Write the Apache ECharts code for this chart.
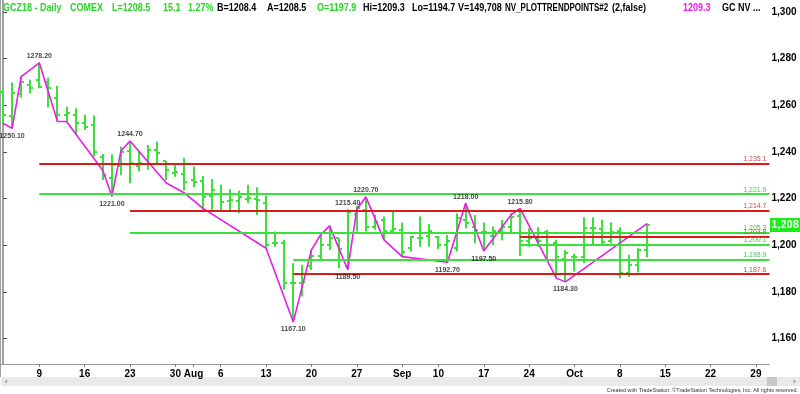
<!DOCTYPE html>
<html><head><meta charset="utf-8">
<script src="https://cdn.jsdelivr.net/npm/echarts@6/dist/echarts.min.js"></script>
<style>html,body{margin:0;padding:0;background:#fff;}#c{width:800px;height:394px;}</style>
</head><body><div id="c"></div><script>
// ---- categories (trading days, 2018) ----
const dates = ['07-02','07-03','07-05','07-06','07-09','07-10','07-11','07-12','07-13','07-16','07-17','07-18','07-19','07-20','07-23','07-24','07-25','07-26','07-27','07-30','07-31',
'08-01','08-02','08-03','08-06','08-07','08-08','08-09','08-10','08-13','08-14','08-15','08-16','08-17','08-20','08-21','08-22','08-23','08-24','08-27','08-28','08-29','08-30','08-31',
'09-04','09-05','09-06','09-07','09-10','09-11','09-12','09-13','09-14','09-17','09-18','09-19','09-20','09-21','09-24','09-25','09-26','09-27','09-28',
'10-01','10-02','10-03','10-04','10-05','10-08','10-09','10-10','10-11','10-12','10-15','10-16','10-17','10-18','10-19','10-22','10-23','10-24','10-25','10-26','10-29','10-30'];
// x tick labels
const xTickDates  = ['07-09','07-16','07-23','07-30','08-01','08-06','08-13','08-20','08-27','09-04','09-10','09-17','09-24','10-01','10-08','10-15','10-22','10-29'];
const xTickLabels = ['9','16','23','30','Aug','6','13','20','27','Sep','10','17','24','Oct','8','15','22','29'];
// y tick labels
const yTicks = [1160,1180,1200,1220,1240,1260,1280,1300];
// ---- OHLC ----
const open  = [1265.5,1255.4,1265,1268.5,1270.9,1270,1263,1256,1256,1252.5,1251.6,1238,1229,1234,1240.5,1234,1235,1241,1236,1231,1230.4,
1228,1227.5,1221,1222,1219,1219,1220,1220,1218,1201,1201,1184,1184,1191,1195.6,1200,1203,1191,1213.5,1215,1208,1211,1206,
1206.5,1199,1203,1204,1203.5,1200,1199,1211,1208,1205.5,1204,1206,1208,1212.5,1202,1203,1205.5,1201,1194,
1195,1195,1207.5,1207,1202,1206,1188,1191.6,1197.9];
const high  = [1267.3,1269.7,1272.3,1270.9,1278.2,1271.8,1268.3,1259.4,1258.7,1255.9,1255.6,1239.1,1239.0,1242.3,1244.7,1240.1,1243.0,1244.4,1236.1,1234.4,1237.5,
1233.7,1229.7,1228.3,1225.9,1224.0,1223.4,1225.9,1224.9,1221.1,1205.9,1202.3,1192.3,1191.6,1198.0,1204.4,1208.3,1203.0,1215.4,1216.9,1220.7,1213.0,1212.3,1214.4,
1209.7,1204.0,1212.3,1209.1,1204.0,1204.4,1213.7,1218.0,1213.0,1209.7,1208.0,1210.9,1213.7,1215.8,1207.3,1207.7,1206.6,1202.3,1198.0,
1196.3,1212.0,1212.0,1210.9,1209.7,1207.7,1195.9,1198.7,1209.3];
const low   = [1252.3,1250.1,1263.3,1265.1,1267.3,1259.0,1253.0,1253.0,1247.3,1249.4,1238.0,1228.0,1221.0,1230.1,1226.6,1231.6,1232.3,1235.1,1228.0,1229.4,1223.5,
1224.8,1214.4,1214.4,1214.4,1215.1,1213.7,1218.0,1213.0,1198.7,1199.4,1180.9,1167.1,1178.0,1189.4,1193.7,1198.0,1190.1,1189.5,1205.9,1205.9,1206.6,1202.3,1205.1,
1195.1,1197.3,1199.4,1199.4,1198.3,1192.7,1197.3,1207.3,1200.9,1197.5,1200.1,1202.0,1205.1,1195.4,1199.4,1199.4,1193.7,1186.4,1184.3,
1188.7,1192.3,1200.1,1200.1,1200.9,1185.9,1186.4,1188.3,1194.7];
const close = [1256,1265.1,1269.9,1267.3,1268,1267.3,1255.9,1256.6,1252.3,1250.8,1240,1230,1234.4,1240.1,1235.1,1235.2,1240.9,1239.4,1232.3,1231.6,1227,
1227.3,1220.8,1223.7,1218.7,1219.4,1220.8,1220.2,1219.4,1200,1200.9,1184,1183.7,1184.4,1195.6,1200,1203,1198.3,1214.4,1215.9,1208,1210,1206,1207,
1197.3,1203.4,1203,1206,1200.1,1202,1211.6,1209.4,1206.6,1205.7,1206,1208,1212,1202,1203,1202,1200,1195,1196.6,
1195,1207.5,1207.5,1201.6,1205.7,1188,1191.6,1198,1208.5];
// ---- trend line (NV_PLOTTRENDPOINTS) ----
const trendIdx = [0,1,2,4,6,7,11,12,13,14,18,20,22,29,32,34,35,36,38,39,40,42,44,49,51,53,56,57,61,62,71];
const trendVal = [1252.3,1250.1,1272.3,1278.2,1253,1253,1232,1221,1240.4,1244.7,1226.7,1222.4,1215.9,1198.7,1167.1,1198,1204.4,1208.3,1189.5,1215.4,1220.7,1202.3,1195.1,1192.7,1218,1197.5,1213,1215.8,1185.9,1184.3,1209.3];
// ---- labelled pivots ----
const pivotIdx = [1,4,12,14,32,38,38,40,49,51,53,57,62];
const pivotVal = [1250.1,1278.2,1221.0,1244.7,1167.1,1189.5,1215.4,1220.7,1192.7,1218.0,1197.5,1215.8,1184.3];
const pivotSide = ['low','high','low','high','low','low','high','high','low','high','low','high','low'];
// ---- horizontal levels ----
const levelVal   = [1235.1,1221.9,1214.7,1205.3,1203.8,1200.1,1193.9,1187.6];
const levelStart = ['07-09','07-09','07-23','07-23','09-21','09-21','08-16','08-16'];
const levelKind  = ['r','g','r','g','r','g','g','r'];
// ---- header ----
const lastPrice = 1208.5;
const headerText = ['GCZ18 - Daily','COMEX','L=1208.5','15.1','1.27%','B=1208.4','A=1208.5','O=1197.9','Hi=1209.3','Lo=1194.7','V=149,708','NV_PLOTTRENDPOINTS#2','(2,false)','1209.3','GC NV ...'];
const headerTone = ['g','g','g','g','g','k','k','g','k','k','k','k','k','m','k'];

// ---- layout / style ----
const headerX = [3,70,112,163,188,217,267,317,363,412,458,505,612,683,722];
const headerScale = [0.9,0.9,0.9,0.9,0.9,0.9,0.9,0.9,0.9,0.9,0.9,0.8,0.9,0.9,0.9];
const GREEN = '#3be03b', RED = '#dd1a1a', MAG = '#e81ee8';
const TONE = {g:'#2ad42a', k:'#000', m:MAG};
const fmt = v => v.toLocaleString('en-US');
const chart = echarts.init(document.getElementById('c'), null, {renderer:'canvas'});
const ohlc = open.map((o,i)=>[i,o,high[i],low[i],close[i]]);
const xTickIdx = xTickDates.map(d=>dates.indexOf(d));
const xMax = dates.length - 0.5;

const option = {
  animation:false,
  grid:{left:-1.5,right:30.5,top:0,bottom:30,outerBoundsMode:'none',containLabel:false},
  xAxis:{type:'value',min:-0.5,max:xMax,
    axisLine:{show:true,lineStyle:{color:'#9a9a9a',width:1}},
    axisTick:{show:true,customValues:xTickIdx,length:3,lineStyle:{color:'#777'}},
    axisLabel:{customValues:xTickIdx,formatter:v=>xTickLabels[xTickIdx.indexOf(v)],
      fontSize:10,fontWeight:'bold',color:'#000',fontFamily:'Arial',margin:5},
    splitLine:{show:false}},
  yAxis:{type:'value',position:'right',min:1149.1,max:1305.1,
    axisLine:{show:true,lineStyle:{color:'#a0a0a0',width:2}},
    axisTick:{show:true,customValues:yTicks,length:4,lineStyle:{color:'#555'}},
    axisLabel:{customValues:yTicks,formatter:fmt,fontSize:10,fontWeight:'bold',color:'#000',fontFamily:'Arial',margin:2},
    splitLine:{show:false}},
  series:[
    {type:'custom',z:2,data:ohlc,encode:{x:0,y:[1,2,3,4]},clip:true,
     renderItem:(params,api)=>{
       const i=api.value(0);
       const pH=api.coord([i,api.value(2)]), pL=api.coord([i,api.value(3)]);
       const pO=api.coord([i,api.value(1)]), pC=api.coord([i,api.value(4)]);
       const cx=Math.round(pH[0]);
       const st={stroke:GREEN,lineWidth:2};
       return {type:'group',children:[
         {type:'line',shape:{x1:cx,y1:pH[1],x2:cx,y2:pL[1]},style:st},
         {type:'line',shape:{x1:cx-3,y1:Math.round(pO[1]),x2:cx,y2:Math.round(pO[1])},style:st},
         {type:'line',shape:{x1:cx,y1:Math.round(pC[1]),x2:cx+3,y2:Math.round(pC[1])},style:st}]};
     }},
    {type:'line',z:3,data:[],silent:true,
     markLine:{silent:true,symbol:['none','none'],animation:false,
       data:levelVal.map((v,k)=>{
         const c = levelKind[k]==='r'?RED:GREEN;
         return [{coord:[dates.indexOf(levelStart[k]),v],
                  lineStyle:{color:c,width:2,type:'solid'},
                  label:{show:true,position:'insideEndTop',formatter:fmt(v),
                    color:levelKind[k]==='r'?'#d84848':'#44cc44',fontSize:7,fontFamily:'Arial',distance:[3,1]}},
                 {coord:[xMax,v]}];
       })}},
    {type:'line',z:4,data:trendIdx.map((x,k)=>[x,trendVal[k]]),symbol:'none',
     lineStyle:{color:MAG,width:1.6}},
    {type:'scatter',z:5,symbolSize:0,itemStyle:{color:'rgba(0,0,0,0)'},
     data:pivotIdx.map((x,k)=>({value:[x,pivotVal[k]],
       label:{show:true,position:pivotSide[k]==='high'?'top':'bottom',distance:pivotSide[k]==='high'?3:4,
         formatter:pivotVal[k].toFixed(2),fontSize:7,fontWeight:'bold',color:'#111',fontFamily:'Arial'}}))}
  ]
};
chart.setOption(option);
const py = chart.convertToPixel({yAxisIndex:0}, lastPrice);
const graphics = [
  {type:'line',shape:{x1:0.5,y1:0,x2:0.5,y2:377},style:{stroke:'#a0a0a0',lineWidth:1}},
  {type:'rect',shape:{x:770,y:Math.round(py)-7,width:30,height:14},style:{fill:'#16ee16'}},
  {type:'text',x:785,y:Math.round(py),style:{text:fmt(Math.trunc(lastPrice)),fill:'#fff',font:'bold 11px Arial',align:'center',verticalAlign:'middle'}},
  {type:'rect',shape:{x:1,y:377,width:799,height:9},style:{fill:'#e9e9e9'}},
  {type:'rect',shape:{x:767,y:377,width:10,height:9},style:{fill:'#c8c8c8'}},
  {type:'text',x:5,y:381.5,style:{text:'‹',fill:'#555',font:'8px Arial',verticalAlign:'middle'}},
  {type:'text',x:793,y:381.5,style:{text:'›',fill:'#555',font:'8px Arial',verticalAlign:'middle'}},
  {type:'text',x:798,y:390,scaleX:0.9,style:{text:'Created with TradeStation. ©TradeStation Technologies, Inc. All rights reserved.',fill:'#333',font:'6px Arial',align:'right',verticalAlign:'middle'}}
];
headerText.forEach((t,k)=>graphics.push({type:'text',x:headerX[k],y:8,scaleX:headerScale[k],
  style:{text:t,fill:TONE[headerTone[k]],font:'bold 10px Arial',verticalAlign:'middle'}}));
chart.setOption({graphic:graphics});
</script></body></html>
